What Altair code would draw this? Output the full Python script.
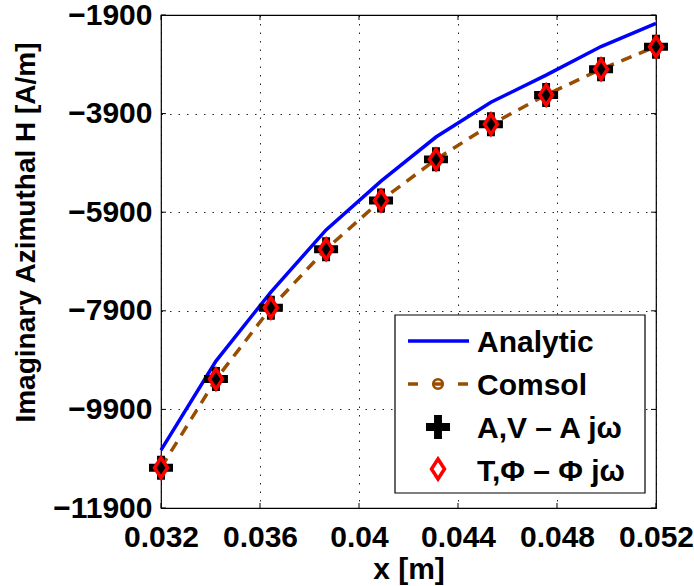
import altair as alt
import pandas as pd

# ---- data ----
x_m = [0.03200, 0.03422, 0.03644, 0.03867, 0.04089, 0.04311, 0.04533, 0.04756, 0.04978, 0.05200]
analytic = [-10725, -8920, -7520, -6260, -5270, -4375, -3670, -3120, -2540, -2070]
comsol = [-11080, -9290, -7840, -6650, -5660, -4830, -4120, -3520, -3000, -2540]
av_ajw = [-11084, -9285, -7838, -6653, -5663, -4828, -4117, -3523, -3002, -2543]
tphi_jw = [-11084, -9285, -7838, -6653, -5663, -4828, -4117, -3523, -3002, -2543]
x_ticks = [0.032, 0.036, 0.040, 0.044, 0.048, 0.052]
y_ticks = [-11900, -9900, -7900, -5900, -3900, -1900]
legend_labels = ["Analytic", "Comsol", "A,V \u2013 A j\u03c9", "T,\u03a6 \u2013 \u03a6 j\u03c9"]

df = pd.DataFrame({"x": x_m, "analytic": analytic, "comsol": comsol,
                   "av": av_ajw, "tphi": tphi_jw})
xt = pd.DataFrame({"t": x_ticks})
yt = pd.DataFrame({"t": y_ticks})
one = pd.DataFrame({"k": [0]})

FONT = "Liberation Sans"
W, H = 495, 493
BLUE = "#0000ff"
BROWN = "#994d00"
RED = "#ff0000"
PLUS = "M-1,-0.33L-0.33,-0.33L-0.33,-1L0.33,-1L0.33,-0.33L1,-0.33L1,0.33L0.33,0.33L0.33,1L-0.33,1L-0.33,0.33L-1,0.33Z"
DIAM = "M0,-1L0.65,0L0,1L-0.65,0Z"

xs = alt.Scale(domain=[0.032, 0.052], nice=False, zero=False)
ys = alt.Scale(domain=[-11900, -1900], nice=False, zero=False)

common_axis = dict(grid=True, gridDash=[1.5, 7], gridColor="black", gridOpacity=0.85,
                   gridWidth=1, ticks=False, tickSize=0, domain=False,
                   labelFont=FONT, labelFontSize=30, labelFontWeight="bold",
                   labelColor="black", labelFlush=False, labelOverlap=False,
                   titleFont=FONT, titleFontWeight="bold", titleColor="black")
x_axis = alt.Axis(values=x_ticks, format=".3~f", title="x [m]", labelPadding=14,
                  titleY=70, titleBaseline="alphabetic", titleFontSize=30, **common_axis)
y_axis = alt.Axis(values=y_ticks, format="d", title="Imaginary Azimuthal H [A/m]",
                  labelPadding=9, titleX=-127, titleY=217, titleAngle=270,
                  titleBaseline="alphabetic", titleAlign="center", titleFontSize=28,
                  **common_axis)

X = alt.X("x:Q", scale=xs, axis=x_axis)

def Y(f):
    return alt.Y(f"{f}:Q", scale=ys, axis=y_axis)

base = alt.Chart(df)
line_an = base.mark_line(color=BLUE, strokeWidth=3.5).encode(x=X, y=Y("analytic"))
line_co = base.mark_line(color=BROWN, strokeWidth=3.5, strokeDash=[11, 8]).encode(x=X, y=Y("comsol"))
pt_co = base.mark_point(shape="circle", size=95, filled=False, color=BROWN,
                        strokeWidth=2.5, opacity=1).encode(x=X, y=Y("comsol"))
pt_av = base.mark_point(shape=PLUS, size=576, filled=True, color="black",
                        opacity=1).encode(x=X, y=Y("av"))
pt_tp = base.mark_point(shape=DIAM, size=400, filled=False, color=RED,
                        strokeWidth=3.5, opacity=1).encode(x=X, y=Y("tphi"))

# inward ticks on all four sides
tk_b = alt.Chart(xt).mark_rule(color="black").encode(
    x=alt.X("t:Q", scale=xs, axis=x_axis), y=alt.value(H), y2=alt.value(H - 5))
tk_t = alt.Chart(xt).mark_rule(color="black").encode(
    x=alt.X("t:Q", scale=xs, axis=x_axis), y=alt.value(0), y2=alt.value(5))
tk_l = alt.Chart(yt).mark_rule(color="black").encode(
    y=alt.Y("t:Q", scale=ys, axis=y_axis), x=alt.value(0), x2=alt.value(5))
tk_r = alt.Chart(yt).mark_rule(color="black").encode(
    y=alt.Y("t:Q", scale=ys, axis=y_axis), x=alt.value(W), x2=alt.value(W - 5))

# legend (manual, MATLAB style)
lg = alt.Chart(one)
lg_box = lg.mark_rect(fill="white", stroke="black", strokeWidth=1.2).encode(
    x=alt.value(234), x2=alt.value(484), y=alt.value(300), y2=alt.value(478))
lg_l1 = lg.mark_rule(color=BLUE, strokeWidth=3.5).encode(
    x=alt.value(247), x2=alt.value(308), y=alt.value(326))
lg_l2 = lg.mark_rule(color=BROWN, strokeWidth=3.5, strokeDash=[10, 15]).encode(
    x=alt.value(247), x2=alt.value(308), y=alt.value(369))
lg_c = lg.mark_point(shape="circle", size=95, filled=False, color=BROWN,
                     strokeWidth=2.5, opacity=1).encode(x=alt.value(277), y=alt.value(369))
lg_p = lg.mark_point(shape=PLUS, size=576, filled=True, color="black",
                     opacity=1).encode(x=alt.value(277), y=alt.value(412))
lg_d = lg.mark_point(shape=DIAM, size=400, filled=False, color=RED,
                     strokeWidth=3.5, opacity=1).encode(x=alt.value(277), y=alt.value(454))

def lg_text(i, ypos):
    return lg.mark_text(font=FONT, fontSize=30, fontWeight="bold", align="left",
                        baseline="alphabetic", color="black").encode(
        x=alt.value(316), y=alt.value(ypos), text=alt.value(legend_labels[i]))

layers = [line_an, line_co, pt_co, pt_av, pt_tp, tk_b, tk_t, tk_l, tk_r,
          lg_box, lg_l1, lg_l2, lg_c, lg_p, lg_d,
          lg_text(0, 337), lg_text(1, 380), lg_text(2, 423), lg_text(3, 466)]

chart = alt.layer(*layers).properties(
    width=W, height=H,
    autosize=alt.AutoSizeParams(type="none"),
    padding={"left": 161, "top": 15, "right": 38, "bottom": 78},
    background="white",
).configure_view(stroke="black", strokeWidth=1.2)

chart.save("out.html", embed_options={"renderer": "svg", "actions": False})
